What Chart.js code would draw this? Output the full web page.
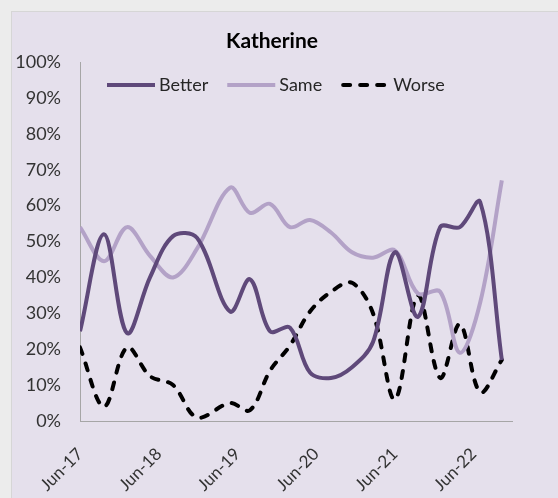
<!DOCTYPE html>
<html>
<head>
<meta charset="utf-8">
<script src="https://cdn.jsdelivr.net/npm/chart.js@4"></script>
<style>
  html, body { margin: 0; padding: 0; background: #ececec; overflow: hidden; }
  #frame {
    position: absolute; left: 11px; top: 11px; width: 560px; height: 500px;
    background: #e5e0ec; border: 1px solid #d6d6d6;
  }
  #chart { position: absolute; left: 0; top: 0; }
</style>
</head>
<body>
<div id="frame"></div>
<canvas id="chart" width="513" height="498"></canvas>
<script>
// months after June 2017 for each survey
const surveyMonth = [0, 3.66, 7.16, 10.67, 14.18, 17.84, 22.87, 25.9, 28.96, 32,
  35.06, 38.26, 41.46, 44.66, 48, 51.5, 54.9, 57.9, 61, 64.3];

const better = [25, 52, 24.5, 40, 51.5, 51, 30.5, 39.5, 25, 26,
  13.5, 12, 15, 22, 47, 29, 54, 54, 61, 17];
const same = [54, 44.5, 54, 46, 40, 48, 65, 58, 60.5, 54,
  56, 52.5, 47, 45.5, 47.5, 35.5, 36, 19, 33, 67];
const worse = [20.5, 4, 20.5, 12.5, 10, 1, 5, 3, 14, 21,
  30.5, 36, 38.5, 30, 6, 35, 12, 27, 8, 17];

const yearLabels = ['Jun-17', 'Jun-18', 'Jun-19', 'Jun-20', 'Jun-21', 'Jun-22'];
const chartTitle = 'Katherine';

function toPoints(values) {
    return values.map((v, i) => ({x: surveyMonth[i], y: v}));
}

// title and legend drawn by hand: the legend sits inside the plot area
const titleAndLegend = {
    id: 'titleAndLegend',
    afterDraw(chart) {
        const ctx = chart.ctx;
        ctx.save();
        ctx.textBaseline = 'middle';

        ctx.font = 'bold 21px Lato';
        ctx.fillStyle = '#000000';
        ctx.textAlign = 'center';
        ctx.fillText(chartTitle, 272, 41);

        ctx.textAlign = 'left';
        ctx.font = '18px Lato';
        const y = 85;
        let x = 107;
        chart.data.datasets.forEach(ds => {
            ctx.beginPath();
            ctx.strokeStyle = ds.borderColor;
            ctx.lineWidth = 4;
            ctx.lineCap = ds.borderDash ? 'round' : 'butt';
            ctx.setLineDash(ds.borderDash || []);
            ctx.moveTo(x + (ds.borderDash ? 2 : 0), y);
            ctx.lineTo(x + (ds.borderDash ? 44 : 48), y);
            ctx.stroke();
            ctx.setLineDash([]);
            ctx.fillStyle = '#262626';
            ctx.fillText(ds.label, x + 52, y);
            x += 52 + ctx.measureText(ds.label).width + 19;
        });
        ctx.restore();
    }
};

Chart.defaults.font.family = 'Lato';
Chart.defaults.color = '#333333';

new Chart(document.getElementById('chart'), {
    type: 'line',
    data: {
        datasets: [{
            label: 'Better',
            data: toPoints(better),
            borderColor: '#5f497a',
            borderWidth: 4,
            tension: 0.35,
            pointRadius: 0
        }, {
            label: 'Same',
            data: toPoints(same),
            borderColor: '#b3a2c7',
            borderWidth: 4,
            tension: 0.35,
            pointRadius: 0
        }, {
            label: 'Worse',
            data: toPoints(worse),
            borderColor: '#000000',
            borderWidth: 4,
            borderDash: [7, 10],
            borderCapStyle: 'round',
            tension: 0.35,
            pointRadius: 0
        }]
    },
    options: {
        responsive: false,
        animation: false,
        layout: { padding: { left: 0, top: 62, right: 0, bottom: 0 } },
        plugins: {
            legend: { display: false },
            tooltip: { enabled: false },
            title: { display: false }
        },
        scales: {
            x: {
                type: 'linear',
                min: 0,
                max: 66,
                grid: { display: false },
                border: { display: true, color: '#a6a6a6', width: 1 },
                ticks: {
                    stepSize: 12,
                    includeBounds: false,
                    autoSkip: false,
                    minRotation: 45,
                    maxRotation: 45,
                    padding: 15,
                    font: { size: 17 },
                    callback: v => yearLabels[v / 12]
                },
                afterFit: s => { s.height = 77; }
            },
            y: {
                min: 0,
                max: 100,
                grid: { display: false },
                border: { display: true, color: '#a6a6a6', width: 1 },
                ticks: {
                    stepSize: 10,
                    padding: 11,
                    font: { size: 18 },
                    callback: v => v + '%'
                },
                afterFit: s => { s.width = 80; }
            }
        }
    },
    plugins: [titleAndLegend]
});
</script>
</body>
</html>
